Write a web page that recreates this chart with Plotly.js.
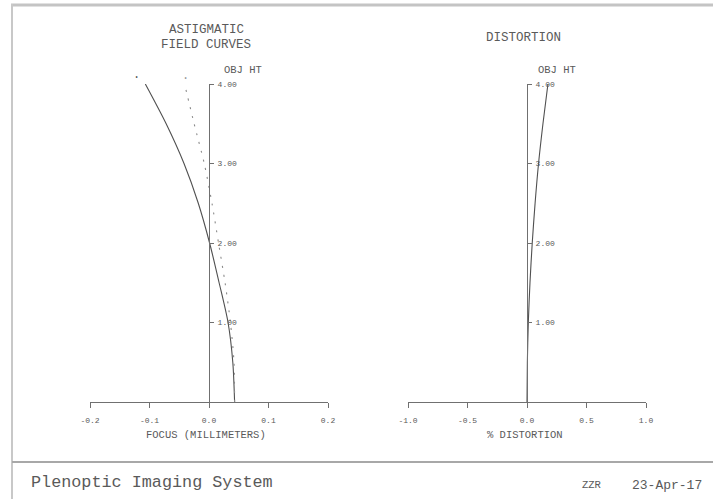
<!DOCTYPE html>
<html>
<head>
<meta charset="utf-8">
<script src="https://cdn.plot.ly/plotly-3.0.1.min.js"></script>
<style>
  html, body { margin: 0; padding: 0; background: #ffffff; }
  #chart { width: 713px; height: 499px; }
</style>
</head>
<body>
<div id="chart"></div>
<script>
// ---- Data ----
const fieldHeights = [0, 0.5, 1.0, 1.5, 2.0, 2.5, 3.0, 3.5, 4.0];
const tangentialFocus = [0.043, 0.040, 0.032, 0.017, 0.001, -0.018, -0.042, -0.072, -0.107];
const sagittalFocus   = [0.043, 0.042, 0.036, 0.027, 0.016, 0.005, -0.008, -0.025, -0.041];
const distortionPct   = [0, 0.003, 0.011, 0.025, 0.044, 0.068, 0.097, 0.134, 0.176];

const focusTickVals = [-0.2, -0.1, 0.0, 0.1, 0.2];
const focusTickText = ["-0.2", "-0.1", "0.0", "0.1", "0.2"];
const distTickVals  = [-1.0, -0.5, 0.0, 0.5, 1.0];
const distTickText  = ["-1.0", "-0.5", "0.0", "0.5", "1.0"];
const objTickVals   = [1, 2, 3, 4];
const objTickText   = ["1.00", "2.00", "3.00", "4.00"];

// ---- Layout helpers ----
const W = 713, H = 499;
const px = v => v / W;
const py = v => 1 - v / H;
const MONO = "Liberation Mono, Courier New, monospace";
const LINE = "#707070";
const TEXT = "#5a5a5a";

const yDom = [py(402), py(84)];
const xDomL = [px(90), px(328)];
const xDomR = [px(408), px(646)];
const posL = xDomL[0] + (0 - (-0.2)) / 0.4 * (xDomL[1] - xDomL[0]);
const posR = xDomR[0] + (0 - (-1.0)) / 2.0 * (xDomR[1] - xDomR[0]);

const tickFont = { family: MONO, size: 8, color: TEXT };

function xAxis(domain, range, vals, text, anchor) {
  return {
    domain: domain, range: range, anchor: anchor,
    showline: true, linecolor: LINE, linewidth: 1,
    ticks: "outside", ticklen: 5, tickcolor: LINE, tickwidth: 1,
    tickvals: vals, ticktext: text, tickfont: tickFont,
    ticklabelstandoff: 5,
    showgrid: false, zeroline: false, fixedrange: true
  };
}
function yAxisMain(pos) {
  return {
    domain: yDom, range: [0, 4], anchor: "free", position: pos, side: "right",
    showline: true, linecolor: LINE, linewidth: 1,
    ticks: "outside", ticklen: 4, tickcolor: LINE, tickwidth: 1,
    tickvals: objTickVals, ticktext: objTickText, tickfont: tickFont,
    ticklabelstandoff: 2,
    showgrid: false, zeroline: false, fixedrange: true
  };
}
function yAxisOver(over, pos) {
  return {
    domain: yDom, range: [0, 4], anchor: "free", position: pos, side: "left",
    overlaying: over, showline: false,
    ticks: "outside", ticklen: 4, tickcolor: LINE, tickwidth: 1,
    tickvals: objTickVals, showticklabels: false,
    showgrid: false, zeroline: false, fixedrange: true
  };
}

const traces = [
  { x: tangentialFocus, y: fieldHeights, xaxis: "x", yaxis: "y", mode: "lines",
    line: { color: "#505050", width: 1.1, shape: "spline", smoothing: 0.8 }, hoverinfo: "skip" },
  { x: sagittalFocus, y: fieldHeights, xaxis: "x", yaxis: "y", mode: "lines",
    line: { color: "#8a8a8a", width: 1.1, dash: "2px,7px", shape: "spline", smoothing: 0.8 }, hoverinfo: "skip" },
  { x: distortionPct, y: fieldHeights, xaxis: "x2", yaxis: "y2", mode: "lines",
    line: { color: "#505050", width: 1.1, shape: "spline", smoothing: 0.8 }, hoverinfo: "skip" }
];

function txt(text, x, y, size, anchor, extra) {
  return Object.assign({
    text: text, xref: "paper", yref: "paper", x: px(x), y: py(y),
    xanchor: anchor || "center", yanchor: "middle", showarrow: false,
    font: { family: MONO, size: size, color: TEXT }
  }, extra || {});
}

const last = fieldHeights.length - 1;
const annotations = [
  txt("ASTIGMATIC", 206, 30, 12.5),
  txt("FIELD CURVES", 206, 45, 12.5),
  txt("OBJ HT", 243, 70, 10.5),
  txt("FOCUS (MILLIMETERS)", 206, 435, 10.5),
  txt("DISTORTION", 523, 38, 12.5),
  txt("OBJ HT", 557, 70, 10.5),
  txt("% DISTORTION", 525, 435, 10.5),
  txt("Plenoptic Imaging System", 29, 482, 16.8, "left"),
  txt("ZZR", 592, 485, 10.5),
  txt("23-Apr-17", 630, 485, 13, "left"),
  // curve end markers (derived from the last data point of each curve)
  { text: "·", xref: "x", yref: "y", x: tangentialFocus[last], y: fieldHeights[last],
    xshift: -9, yshift: 6, showarrow: false, font: { family: MONO, size: 12, color: "#555" } },
  { text: "·", xref: "x", yref: "y", x: sagittalFocus[last], y: fieldHeights[last],
    xshift: 1, yshift: 5, showarrow: false, font: { family: MONO, size: 12, color: "#999" } }
];

const shapes = [
  { type: "line", xref: "paper", yref: "paper", x0: px(11), x1: 1, y0: py(5), y1: py(5),
    line: { color: "#c4c4c4", width: 3 } },
  { type: "line", xref: "paper", yref: "paper", x0: px(12), x1: px(12), y0: py(4), y1: 0,
    line: { color: "#c8c8c8", width: 2 } },
  { type: "line", xref: "paper", yref: "paper", x0: px(12), x1: 1, y0: py(462), y1: py(462),
    line: { color: "#a8a8a8", width: 2 } }
];

const layout = {
  width: W, height: H,
  margin: { l: 0, r: 0, t: 0, b: 0, pad: 0 },
  paper_bgcolor: "#ffffff", plot_bgcolor: "rgba(0,0,0,0)",
  showlegend: false,
  font: { family: MONO, color: TEXT },
  xaxis: xAxis(xDomL, [-0.2, 0.2], focusTickVals, focusTickText, "y"),
  xaxis2: xAxis(xDomR, [-1.0, 1.0], distTickVals, distTickText, "y2"),
  yaxis: yAxisMain(posL),
  yaxis2: yAxisMain(posR),
  yaxis3: yAxisOver("y", posL),
  yaxis4: yAxisOver("y2", posR),
  annotations: annotations,
  shapes: shapes
};

Plotly.newPlot("chart", traces, layout, { staticPlot: true, displayModeBar: false });
</script>
</body>
</html>
